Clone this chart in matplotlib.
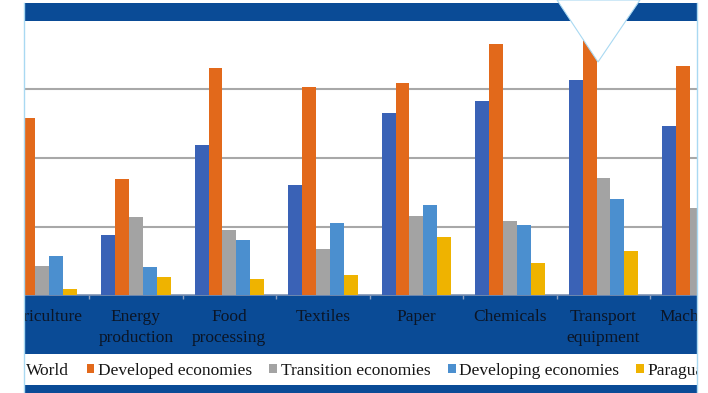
import matplotlib
matplotlib.use('Agg')
import matplotlib.pyplot as plt
from matplotlib.patches import Rectangle, Polygon, Patch
import numpy as np

W, H = 708, 393  # output size in pixels

categories = ['Agriculture', 'Energy\nproduction', 'Food\nprocessing', 'Textiles',
              'Paper', 'Chemicals', 'Transport\nequipment', 'Machinery']
series = ['World', 'Developed economies', 'Transition economies',
          'Developing economies', 'Paraguay']
world = [21.0, 8.8, 21.9, 16.1, 26.6, 28.3, 31.4, 24.7]
developed = [25.8, 17.0, 33.2, 30.4, 30.9, 36.7, 38.0, 33.4]
transition = [4.2, 11.4, 9.5, 6.7, 11.5, 10.8, 17.1, 12.7]
developing = [5.7, 4.1, 8.0, 10.5, 13.1, 10.2, 14.0, 12.0]
paraguay = [0.9, 2.7, 2.3, 2.9, 8.5, 4.6, 6.4, 3.0]
grid_values = [10, 20, 30]

colors = ['#3a62b6', '#e2691b', '#a3a3a3', '#4b8fcf', '#efb300']
BAND = '#0a4b96'
EDGE = '#a9d9f2'
SERIF = ['Liberation Serif', 'DejaVu Serif']


def fx(px):
    return px / W


def fy(py):
    return 1 - py / H


fig = plt.figure(figsize=(W / 100, H / 100), dpi=100, facecolor='white')

# dark blue frame behind everything (the chart sits inside it)
fig.add_artist(Rectangle((fx(24), 0), fx(673), fy(3), transform=fig.transFigure,
                         facecolor=BAND, edgecolor='none', zorder=-5))
# white strip holding the legend
fig.add_artist(Rectangle((fx(24), fy(385)), fx(673), (385 - 354) / H,
                         transform=fig.transFigure, facecolor='white',
                         edgecolor='none', zorder=-4))

ax = fig.add_axes([fx(24), fy(295), fx(673), 274 / H])
ax.set_facecolor('white')

x = np.arange(len(categories))
width = 0.1486
for k, (name, vals) in enumerate(zip(series, [world, developed, transition, developing, paraguay])):
    ax.bar(x + (k - 2) * width, vals, width, color=colors[k], label=name, zorder=3)

ax.set_xlim(-0.196, 6.948)
ax.set_ylim(0, 40)
ax.set_yticks(grid_values)
ax.yaxis.grid(True, color='#a8a8a8', linewidth=1.5, zorder=0)
ax.tick_params(axis='y', left=False, labelleft=False)
for side in ('left', 'top', 'right'):
    ax.spines[side].set_visible(False)
ax.spines['bottom'].set_color('#7f93b3')
ax.spines['bottom'].set_linewidth(1.2)

# tick labels run off the right edge on purpose ("Mach..."), as in the source crop
ax.set_xticks(x)
ax.set_xticklabels(categories, fontsize=12.5, family=SERIF, color='#0b1526',
                   linespacing=1.42)
ax.set_xticks(x[:-1] + 0.5, minor=True)
ax.tick_params(axis='x', which='major', length=0, pad=10)
ax.tick_params(axis='x', which='minor', length=3, color='#8ea0bd', width=1)

handles = [Patch(facecolor=c, edgecolor='none') for c in colors]
ax.legend(handles, series, loc='center left', ncol=5, frameon=False,
          bbox_to_anchor=(fx(15), fy(371)), bbox_transform=fig.transFigure,
          prop={'family': SERIF, 'size': 12.5}, labelcolor='#161616',
          handlelength=0.45, handleheight=0.45, handletextpad=0.2,
          columnspacing=1.0, borderpad=0, borderaxespad=0)

# crop edges of the source picture: white margins and the notch at the top
fig.add_artist(Rectangle((0, 0), fx(24), 1, transform=fig.transFigure,
                         facecolor='white', edgecolor='none', zorder=20))
fig.add_artist(Rectangle((fx(697), 0), 1 - fx(697), 1, transform=fig.transFigure,
                         facecolor='white', edgecolor='none', zorder=20))
fig.add_artist(Rectangle((0, fy(3)), 1, 3 / H, transform=fig.transFigure,
                         facecolor='white', edgecolor='none', zorder=20))
for edge in (24, 697):
    fig.add_artist(plt.Line2D([fx(edge), fx(edge)], [0, fy(3)],
                              transform=fig.transFigure, color=EDGE,
                              linewidth=1, zorder=21))
fig.add_artist(Polygon([(fx(557), 1), (fx(640), 1), (fx(598), fy(62))],
                       closed=True, transform=fig.transFigure,
                       facecolor='white', edgecolor=EDGE, linewidth=0.8,
                       zorder=21))

fig.savefig('out.png', dpi=100)
